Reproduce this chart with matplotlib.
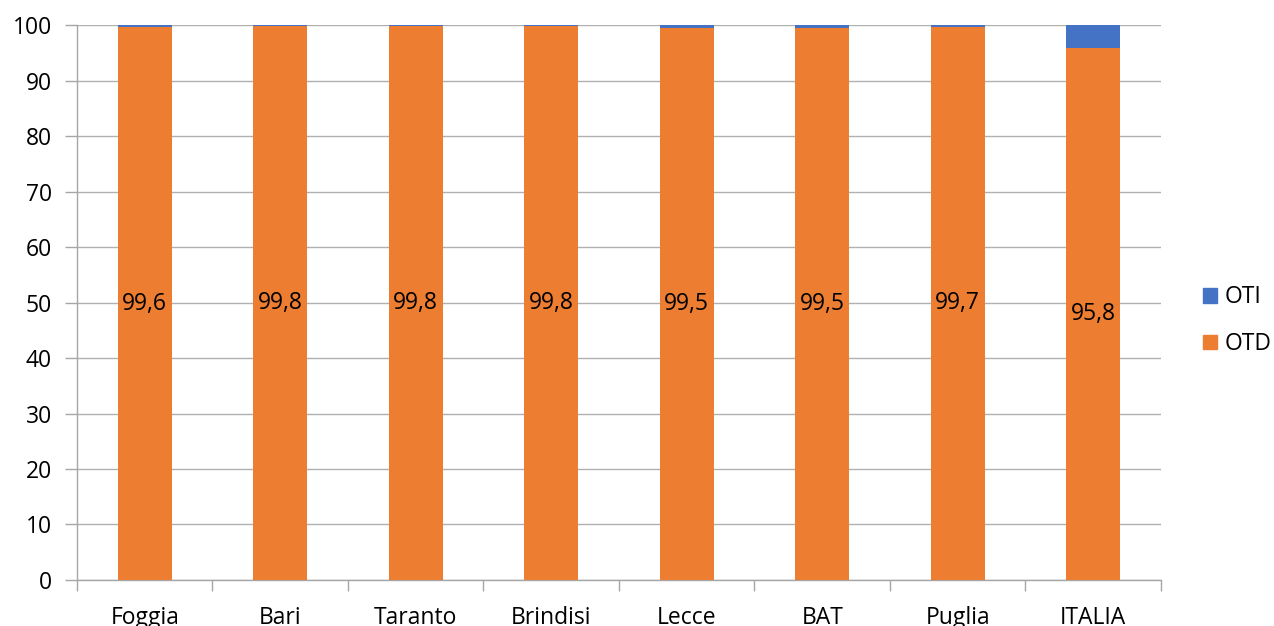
import matplotlib.pyplot as plt
from matplotlib.ticker import FixedLocator
from matplotlib.patches import Patch

plt.rcParams['font.family'] = ['Open Sans', 'DejaVu Sans']

categories = ['Foggia', 'Bari', 'Taranto', 'Brindisi', 'Lecce', 'BAT', 'Puglia', 'ITALIA']
otd = [99.6, 99.8, 99.8, 99.8, 99.5, 99.5, 99.7, 95.8]
oti = [0.4, 0.2, 0.2, 0.2, 0.5, 0.5, 0.3, 4.2]
otd_labels = ['99,6', '99,8', '99,8', '99,8', '99,5', '99,5', '99,7', '95,8']

orange = '#ED7D31'
blue = '#4472C4'
grey = '#A6A6A6'
fs = 16.5

fig = plt.figure(figsize=(12.74, 6.26), dpi=100)
ax = fig.add_axes([0.0604, 0.0735, 0.8509, 0.8865])

x = list(range(len(categories)))
ax.bar(x, otd, width=0.4, color=orange, zorder=3)
ax.bar(x, oti, width=0.4, bottom=otd, color=blue, zorder=3)

for xi, v, lab in zip(x, otd, otd_labels):
    ax.text(xi, v / 2, lab, ha='center', va='center', fontsize=fs, color='black', zorder=4)

ax.set_xlim(-0.5, len(categories) - 0.5)
ax.set_ylim(0, 100)
ax.set_yticks(range(0, 101, 10))
ax.set_xticks(x)
ax.set_xticklabels(categories)
ax.xaxis.set_minor_locator(FixedLocator([i - 0.5 for i in range(len(categories) + 1)]))

ax.tick_params(axis='x', which='major', length=0, pad=19, labelsize=fs)
ax.tick_params(axis='x', which='minor', length=8, color=grey, width=1)
ax.tick_params(axis='y', length=9, color=grey, width=1, labelsize=fs, pad=9)

ax.yaxis.grid(True, color='#B0B0B0', linewidth=1, zorder=0)
ax.set_axisbelow(True)
for side in ['top', 'right']:
    ax.spines[side].set_visible(False)
for side in ['left', 'bottom']:
    ax.spines[side].set_color(grey)
    ax.spines[side].set_linewidth(1)

handles = [Patch(color=blue, label='OTI'), Patch(color=orange, label='OTD')]
ax.legend(handles=handles, loc='center left', bbox_to_anchor=(1.02, 0.467),
          frameon=False, fontsize=fs, handlelength=0.6, handleheight=0.6,
          handletextpad=0.35, labelspacing=1.0)

fig.savefig('out.png', dpi=100)
